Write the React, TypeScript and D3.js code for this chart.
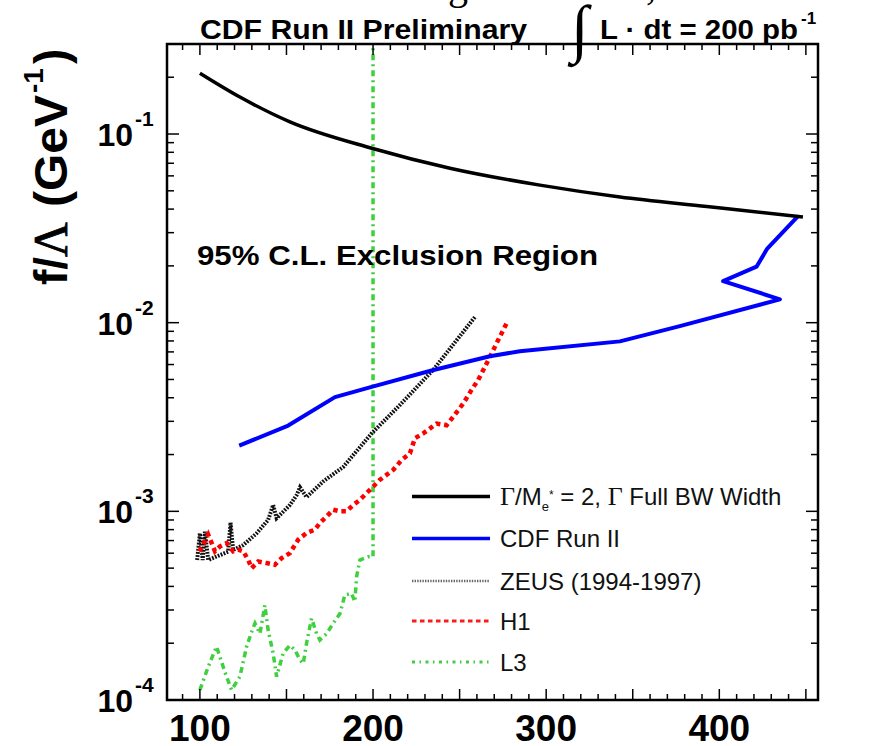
import React from "react";
import * as d3 from "d3";

// ---- data (mass in GeV, f/Lambda in GeV^-1) ----
const GAMMA_X = [100, 123.1, 152, 199.3, 244.4, 296.4, 342.6, 392.8, 448.3];
const GAMMA_Y = [0.21, 0.157, 0.116, 0.0841, 0.0659, 0.0536, 0.0464, 0.0413, 0.0363];

const CDF_X = [122.7, 151.0, 178.0, 199.2, 233.8, 267.5, 284.8, 342.6, 377.2, 435.0, 402.2, 421.5, 427.7, 445.6];
const CDF_Y = [0.00223, 0.00285, 0.00403, 0.00457, 0.00558, 0.00664, 0.00706, 0.00796, 0.00959, 0.0133, 0.0166, 0.0198, 0.0247, 0.0368];

const ZEUS_X = [98.4, 100, 101.6, 102.9, 104.8, 116.3, 117.7, 119.2, 125.0, 132.7, 139.4, 142.3, 144.3, 152.0, 155.9, 157.8, 161.6, 171.2, 182.8, 199.2, 215.5, 234.7, 258.8];
const ZEUS_Y = [5.52e-4, 7.64e-4, 5.52e-4, 7.8e-4, 5.52e-4, 6.11e-4, 8.71e-4, 6.24e-4, 6.62e-4, 7.64e-4, 9.0e-4, 1.08e-3, 9.19e-4, 1.08e-3, 1.22e-3, 1.34e-3, 1.19e-3, 1.44e-3, 1.72e-3, 2.59e-3, 3.66e-3, 5.61e-3, 1.07e-2];

const H1_X = [99.6, 101.9, 104.8, 106.8, 108.7, 111.6, 115.4, 119.2, 122.1, 125.0, 127.9, 129.9, 133.7, 138.5, 143.3, 147.2, 152.0, 156.8, 161.6, 166.4, 169.3, 173.2, 177.0, 180.9, 184.7, 188.5, 192.4, 198.2, 204.0, 211.7, 216.5, 221.3, 224.2, 229.0, 236.7, 242.5, 246.3, 252.1, 256.9, 260.7, 264.6, 268.5, 272.3, 277.1];
const H1_Y = [6.14e-4, 6.65e-4, 7.52e-4, 6.79e-4, 6.14e-4, 6.52e-4, 6.79e-4, 6.14e-4, 6.26e-4, 6.14e-4, 5.53e-4, 5.0e-4, 5.42e-4, 5.32e-4, 5.21e-4, 5.65e-4, 6.01e-4, 7.08e-4, 7.67e-4, 8.0e-4, 8.67e-4, 9.4e-4, 1.02e-3, 1.0e-3, 1.0e-3, 1.08e-3, 1.15e-3, 1.3e-3, 1.47e-3, 1.66e-3, 1.87e-3, 2.03e-3, 2.44e-3, 2.59e-3, 2.92e-3, 2.86e-3, 3.17e-3, 3.73e-3, 4.4e-3, 4.97e-3, 5.83e-3, 6.87e-3, 8.09e-3, 9.91e-3];

const L3_X = [100, 104.8, 109.6, 111.6, 114.4, 118.3, 123.1, 127.0, 129.9, 131.8, 134.7, 137.5, 139.4, 142.3, 144.3, 148.1, 152.0, 154.9, 157.8, 159.7, 161.6, 164.5, 167.4, 169.3, 173.2, 177.0, 180.9, 183.7, 187.6, 189.5, 190.5, 192.4, 197.2, 200, 200];
const L3_Y = [1.13e-4, 1.5e-4, 1.92e-4, 1.69e-4, 1.41e-4, 1.13e-4, 1.33e-4, 1.92e-4, 2.3e-4, 2.55e-4, 2.25e-4, 3.18e-4, 2.35e-4, 1.77e-4, 1.33e-4, 1.77e-4, 1.95e-4, 1.84e-4, 1.63e-4, 1.56e-4, 2.0e-4, 2.71e-4, 2.25e-4, 2.08e-4, 2.25e-4, 2.55e-4, 2.87e-4, 3.6e-4, 3.67e-4, 3.32e-4, 4.5e-4, 5.52e-4, 5.74e-4, 5.74e-4, 0.3];

const X_DOMAIN = [81, 457];
const Y_DOMAIN = [1e-4, 0.3];
const X_LABELS = [100, 200, 300, 400];
const Y_DECADES = [-4, -3, -2, -1];

const LEGEND_LABELS = ["CDF Run II", "ZEUS (1994-1997)", "H1", "L3"];

const W = 895, H = 746;
const L = 167, R = 818, T = 44, B = 700;
const SANS = "'Liberation Sans', Arial, Helvetica, sans-serif";
const SERIF = "'Liberation Serif', 'Times New Roman', serif";

export default function App() {
  const x = d3.scaleLinear().domain(X_DOMAIN).range([L, R]);
  const y = d3.scaleLog().domain(Y_DOMAIN).range([B, T]);

  const mk = (xs: number[], ys: number[], curve: any = d3.curveLinear) =>
    d3.line<number>().x((_, i) => x(xs[i])).y((_, i) => y(ys[i])).curve(curve)(xs.map((_, i) => i)) || "";

  const xTicks: { v: number; major: boolean }[] = [];
  for (let v = 90; v <= 450; v += 10) xTicks.push({ v, major: v % 50 === 0 });
  const yTicks: { v: number; major: boolean }[] = [];
  for (let e = -4; e <= -1; e++) {
    for (let k = 1; k <= 9; k++) {
      const v = k * Math.pow(10, e);
      if (v >= Y_DOMAIN[0] && v <= Y_DOMAIN[1] * 1.0001) yTicks.push({ v, major: k === 1 });
    }
  }

  const legendY = [496.5, 538.5, 581, 621, 662];
  const legendStyles = [
    { stroke: "#000", sw: 3.5, dash: "" },
    { stroke: "#0000ff", sw: 3.5, dash: "" },
    { stroke: "#666", sw: 2.4, dash: "1.4 1.2" },
    { stroke: "#ff1a1a", sw: 3, dash: "4.5 3.5" },
    { stroke: "#44cc44", sw: 3, dash: "3 4.5 1.5 4.5" },
  ];

  return (
    <div style={{ position: "absolute", left: 0, top: 0, width: W, height: H, background: "#fff" }}>
      <svg width={W} height={H} style={{ display: "block" }}>
        <rect width={W} height={H} fill="#fff" />
        <defs>
          <clipPath id="plot">
            <rect x={L} y={T} width={R - L} height={B - T} />
          </clipPath>
        </defs>

        {/* clipped fragments of a title above the canvas */}
        <text x={448} y={-1} fontFamily={SERIF} fontSize={40} fill="#000">g</text>
        <text x={646} y={-1} fontFamily={SERIF} fontSize={40} fill="#000">,</text>

        {/* header */}
        <text x={200} y={39} fontFamily={SANS} fontWeight="bold" fontSize={27} textLength={327} lengthAdjust="spacingAndGlyphs" fill="#000">CDF Run II Preliminary</text>
        <text x={571} y={50} fontFamily={SERIF} fontSize={64} fill="#000">∫</text>
        <text x={600} y={39} fontFamily={SANS} fontWeight="bold" fontSize={27} textLength={198} lengthAdjust="spacingAndGlyphs" fill="#000">L · dt = 200 pb</text>
        <text x={801} y={24} fontFamily={SANS} fontWeight="bold" fontSize={17} fill="#000">-1</text>

        {/* curves */}
        <g clipPath="url(#plot)" fill="none">
          <path d={mk(L3_X, L3_Y)} stroke="#3fcf3f" strokeWidth={3.5} strokeDasharray="6 4 2 4" />
          <path d={mk(ZEUS_X, ZEUS_Y)} stroke="#111" strokeWidth={4} strokeDasharray="1.8 1.3" />
          <path d={mk(H1_X, H1_Y)} stroke="#ff0000" strokeWidth={4.5} strokeDasharray="4.5 3.8" />
          <path d={mk(CDF_X, CDF_Y)} stroke="#0000ff" strokeWidth={4} strokeLinejoin="round" />
          <path d={mk(GAMMA_X, GAMMA_Y, d3.curveMonotoneX)} stroke="#000" strokeWidth={3.5} />
        </g>

        {/* frame */}
        <rect x={L} y={T} width={R - L} height={B - T} fill="none" stroke="#000" strokeWidth={2.5} />

        {xTicks.map((t) => {
          const px = x(t.v);
          const len = t.major ? 11 : 6;
          return (
            <g key={"xt" + t.v} stroke="#000" strokeWidth={1.5}>
              <line x1={px} x2={px} y1={B} y2={B - len} />
              <line x1={px} x2={px} y1={T} y2={T + len} />
            </g>
          );
        })}
        {yTicks.map((t, i) => {
          const py = y(t.v);
          const len = t.major ? 12 : 7;
          return (
            <g key={"yt" + i} stroke="#000" strokeWidth={1.5}>
              <line x1={L} x2={L + len} y1={py} y2={py} />
              <line x1={R} x2={R - len} y1={py} y2={py} />
            </g>
          );
        })}

        {X_LABELS.map((v) => (
          <text key={"xl" + v} x={x(v)} y={741} textAnchor="middle" fontFamily={SANS} fontWeight="bold" fontSize={37} fill="#000">{v}</text>
        ))}
        {Y_DECADES.map((e) => {
          const py = y(Math.pow(10, e));
          return (
            <g key={"yl" + e} fontFamily={SANS} fontWeight="bold" fill="#000">
              <text x={133} y={py + 12} textAnchor="end" fontSize={32}>10</text>
              <text x={135} y={py - 8} fontSize={21}>{"-" + Math.abs(e)}</text>
            </g>
          );
        })}

        {/* y axis title */}
        <g transform="translate(67,285) rotate(-90)" fill="#000">
          <text x={0} y={0} fontFamily={SANS} fontWeight="bold" fontSize={46}>f/</text>
          <text x={28} y={0} fontFamily={SERIF} fontSize={48} stroke="#000" strokeWidth={0.8}>Λ</text>
          <text x={78} y={0} fontFamily={SANS} fontWeight="bold" fontSize={46} textLength={112} lengthAdjust="spacingAndGlyphs">(GeV</text>
          <text x={192} y={-24} fontFamily={SANS} fontWeight="bold" fontSize={28}>-1</text>
          <text x={221} y={0} fontFamily={SANS} fontWeight="bold" fontSize={46}>)</text>
        </g>

        <text x={197} y={265} fontFamily={SANS} fontWeight="bold" fontSize={27} textLength={401} lengthAdjust="spacingAndGlyphs" fill="#000">95% C.L.  Exclusion Region</text>

        {legendStyles.map((s, i) => (
          <line key={"lg" + i} x1={412} x2={490} y1={legendY[i]} y2={legendY[i]} stroke={s.stroke} strokeWidth={s.sw} strokeDasharray={s.dash || undefined} />
        ))}
        <text x={500} y={legendY[0] + 8.5} fontFamily={SANS} fontSize={24} fill="#111">
          <tspan fontFamily={SERIF} fontSize={26}>Γ</tspan>
          <tspan>/M</tspan>
          <tspan fontSize={13} dy={6}>e</tspan>
          <tspan fontSize={12} dy={-12}>*</tspan>
          <tspan dy={6}> = 2, </tspan>
          <tspan fontFamily={SERIF} fontSize={26}>Γ</tspan>
          <tspan> Full BW Width</tspan>
        </text>
        {LEGEND_LABELS.map((lab, i) => (
          <text key={"lt" + i} x={500} y={legendY[i + 1] + 8.5} fontFamily={SANS} fontSize={24} fill="#111">{lab}</text>
        ))}
      </svg>
    </div>
  );
}
